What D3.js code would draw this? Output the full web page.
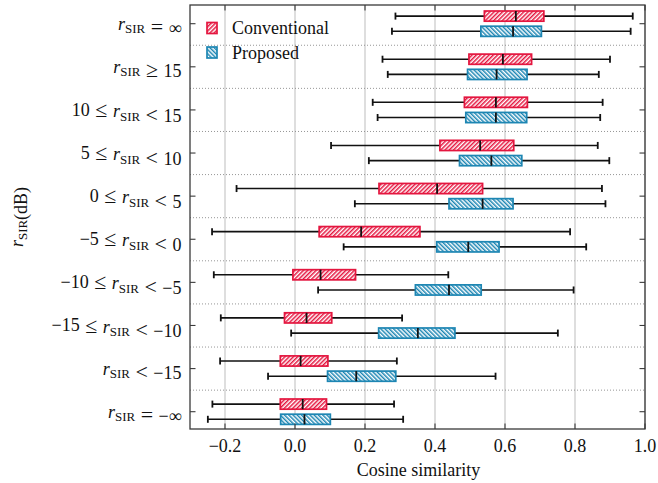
<!DOCTYPE html>
<html>
<head>
<meta charset="utf-8">
<script src="https://cdn.jsdelivr.net/npm/d3@7"></script>
<style>
  html, body { margin: 0; padding: 0; background: #fff; }
  svg { display: block; font-family: "Liberation Serif", "Times New Roman", serif; }
</style>
</head>
<body>
<svg id="chart" width="658" height="483"></svg>
<script>
// ---- data ----
const labelPrefix = ["", "", "10 ≤ ", "5 ≤ ", "0 ≤ ", "−5 ≤ ", "−10 ≤ ", "−15 ≤ ", "", ""];
const labelSuffix = [" = ∞", " ≥ 15", " < 15", " < 10", " < 5", " < 0", " < −5", " < −10", " < −15", " = −∞"];
const categories = d3.range(labelPrefix.length);

const seriesNames = ["Conventional", "Proposed"];

const convLow  = [0.287, 0.250, 0.222, 0.103, -0.167, -0.237, -0.232, -0.212, -0.214, -0.236];
const convQ1   = [0.541, 0.497, 0.484, 0.414,  0.240,  0.069, -0.006, -0.030, -0.042, -0.042];
const convMed  = [0.631, 0.594, 0.574, 0.529,  0.406,  0.189,  0.073,  0.033,  0.016,  0.022];
const convQ3   = [0.711, 0.676, 0.664, 0.625,  0.536,  0.357,  0.173,  0.105,  0.094,  0.090];
const convHigh = [0.965, 0.900, 0.879, 0.865,  0.877,  0.786,  0.438,  0.306,  0.291,  0.283];

const propLow  = [0.277, 0.265, 0.236, 0.211, 0.171, 0.139, 0.066, -0.011, -0.077, -0.249];
const propQ1   = [0.531, 0.493, 0.488, 0.470, 0.440, 0.405, 0.344,  0.239,  0.093, -0.041];
const propMed  = [0.623, 0.576, 0.574, 0.561, 0.536, 0.495, 0.440,  0.351,  0.175,  0.027];
const propQ3   = [0.704, 0.663, 0.662, 0.648, 0.623, 0.583, 0.532,  0.457,  0.288,  0.101];
const propHigh = [0.959, 0.868, 0.872, 0.898, 0.887, 0.832, 0.796,  0.751,  0.573,  0.309];

const xTicks = [-0.2, 0.0, 0.2, 0.4, 0.6, 0.8, 1.0];
const xLabel = "Cosine similarity";

// ---- layout ----
const svg = d3.select("#chart");
const L = 190, R = 645, T = 5, B = 429;
const RED = "#e4163f", BLUE = "#1d86b3", AX = "#3a3a3a";

const x = d3.scaleLinear().domain([-0.3, 1.0]).range([L, R]);
const y = d3.scalePoint().domain(categories).range([23.7, 411.7]);
const step = y.step();
const offset = 7.6, boxH = 10.2, capH = 7;

const series = [
  {name: seriesNames[0], color: RED, pat: "hatchConv", off: -offset,
   lo: convLow, q1: convQ1, med: convMed, q3: convQ3, hi: convHigh},
  {name: seriesNames[1], color: BLUE, pat: "hatchProp", off: offset,
   lo: propLow, q1: propQ1, med: propMed, q3: propQ3, hi: propHigh}
];

// patterns
const defs = svg.append("defs");
function makePattern(id, color, angle) {
  const p = defs.append("pattern").attr("id", id)
    .attr("patternUnits", "userSpaceOnUse")
    .attr("width", 3.0).attr("height", 3.0)
    .attr("patternTransform", `rotate(${angle})`);
  p.append("rect").attr("width", 3.0).attr("height", 3.0).attr("fill", "#fff");
  p.append("line").attr("x1", 0.75).attr("x2", 0.75).attr("y1", -1).attr("y2", 4)
    .attr("stroke", color).attr("stroke-width", 1.5);
}
makePattern("hatchConv", RED, 45);
makePattern("hatchProp", BLUE, -45);

// grid
svg.append("g").selectAll("line").data(xTicks).join("line")
  .attr("x1", d => x(d)).attr("x2", d => x(d)).attr("y1", T).attr("y2", B)
  .attr("stroke", "#cccccc").attr("stroke-width", 1.3);

// separators
svg.append("g").selectAll("line").data(categories.slice(1)).join("line")
  .attr("x1", L).attr("x2", R)
  .attr("y1", d => y(d) - step / 2).attr("y2", d => y(d) - step / 2)
  .attr("stroke", "#8a8a8a").attr("stroke-width", 0.9).attr("stroke-dasharray", "1,2");

// boxes
series.forEach(s => {
  const g = svg.append("g");
  categories.forEach(i => {
    const cy = y(i) + s.off;
    g.append("line").attr("x1", x(s.lo[i])).attr("x2", x(s.q1[i])).attr("y1", cy).attr("y2", cy)
      .attr("stroke", "#111").attr("stroke-width", 1.6);
    g.append("line").attr("x1", x(s.q3[i])).attr("x2", x(s.hi[i])).attr("y1", cy).attr("y2", cy)
      .attr("stroke", "#111").attr("stroke-width", 1.6);
    [s.lo[i], s.hi[i]].forEach(v => {
      g.append("line").attr("x1", x(v)).attr("x2", x(v)).attr("y1", cy - capH / 2).attr("y2", cy + capH / 2)
        .attr("stroke", "#111").attr("stroke-width", 1.8);
    });
    g.append("rect").attr("x", x(s.q1[i])).attr("y", cy - boxH / 2)
      .attr("width", x(s.q3[i]) - x(s.q1[i])).attr("height", boxH)
      .attr("fill", `url(#${s.pat})`).attr("stroke", s.color).attr("stroke-width", 1.7);
    g.append("line").attr("x1", x(s.med[i])).attr("x2", x(s.med[i]))
      .attr("y1", cy - boxH / 2).attr("y2", cy + boxH / 2)
      .attr("stroke", "#111").attr("stroke-width", 1.8);
  });
});

// frame
svg.append("rect").attr("x", L).attr("y", T).attr("width", R - L).attr("height", B - T)
  .attr("fill", "none").attr("stroke", AX).attr("stroke-width", 1.3);

// ticks (inward, all sides)
const tk = 5.5;
const tg = svg.append("g").attr("stroke", AX).attr("stroke-width", 1.1);
xTicks.forEach(v => {
  tg.append("line").attr("x1", x(v)).attr("x2", x(v)).attr("y1", B).attr("y2", B - tk);
  tg.append("line").attr("x1", x(v)).attr("x2", x(v)).attr("y1", T).attr("y2", T + tk);
});
categories.forEach(i => {
  tg.append("line").attr("x1", L).attr("x2", L + tk).attr("y1", y(i)).attr("y2", y(i));
  tg.append("line").attr("x1", R).attr("x2", R - tk).attr("y1", y(i)).attr("y2", y(i));
});

// x tick labels
const fmt = d3.format(".1f");
svg.append("g").selectAll("text").data(xTicks).join("text")
  .attr("x", d => x(d)).attr("y", 451.5).attr("text-anchor", "middle")
  .attr("font-size", 18).attr("fill", "#111").text(d => fmt(d));

svg.append("text").attr("x", (L + R) / 2 + 1).attr("y", 476).attr("text-anchor", "middle")
  .attr("font-size", 18).attr("fill", "#111").text(xLabel);

// plain text with enlarged relation symbols
function mathText(t, str, fs) {
  str.split(/([≤≥<=])/).forEach(part => {
    if (!part) return;
    if (/^[≤≥<=]$/.test(part)) {
      t.append("tspan").attr("font-size", fs * 1.22).attr("dy", fs * 0.06).text(part);
      t.append("tspan").attr("font-size", fs).attr("dy", -fs * 0.06).text("");
    } else {
      t.append("tspan").text(part);
    }
  });
}
// math label helper: prefix + italic r + subscript SIR + suffix
function rsir(t, prefix, suffix, fs) {
  if (prefix) mathText(t, prefix, fs);
  t.append("tspan").attr("font-style", "italic").text("r");
  t.append("tspan").attr("font-size", fs * 0.72).attr("dy", fs * 0.2).text("SIR");
  t.append("tspan").attr("dy", -fs * 0.2).text("");
  mathText(t, suffix, fs);
}

const fsY = 18;
categories.forEach(i => {
  const t = svg.append("text").attr("x", 181.5).attr("y", y(i) + 6)
    .attr("text-anchor", "end").attr("font-size", fsY).attr("fill", "#111")
    .attr("word-spacing", 1)
    .attr("xml:space", "preserve");
  rsir(t, labelPrefix[i], labelSuffix[i], fsY);
});

// y axis title
const yt = svg.append("text").attr("transform", `translate(23,${(T + B) / 2}) rotate(-90)`)
  .attr("text-anchor", "middle").attr("font-size", 18).attr("fill", "#111");
rsir(yt, "", "(dB)", 18);

// legend
const lg = svg.append("g");
series.forEach((s, k) => {
  const ly = 22.5 + k * 24.5;
  lg.append("rect").attr("x", 207).attr("y", ly).attr("width", 10).attr("height", 11)
    .attr("fill", `url(#${s.pat})`).attr("stroke", s.color).attr("stroke-width", 1.7);
  lg.append("text").attr("x", 232).attr("y", ly + 11.5).attr("font-size", 18)
    .attr("fill", "#111").text(s.name);
});
</script>
</body>
</html>
